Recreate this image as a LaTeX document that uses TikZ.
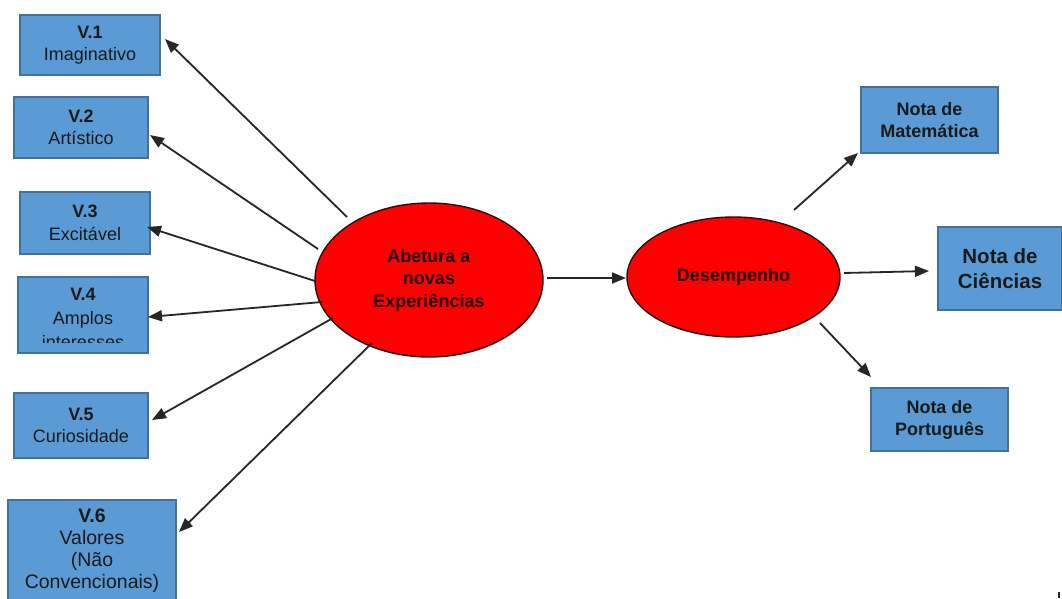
\documentclass[tikz,border=0pt]{standalone}
\usepackage{fontspec}
\setmainfont{Liberation Sans}
\usetikzlibrary{shapes.geometric,arrows.meta}

\definecolor{boxfill}{HTML}{5B9BD5}
\definecolor{boxedge}{HTML}{41719C}
\definecolor{ink}{HTML}{1A1A1A}
\definecolor{ovalfill}{HTML}{FF0000}
\definecolor{ovaledge}{HTML}{2A0A0A}
\definecolor{ovalink}{HTML}{200000}
\definecolor{arrowcol}{HTML}{262626}

\tikzset{
  box/.style={draw=boxedge, fill=boxfill, line width=1.2pt, inner sep=0pt,
    align=center, text=ink, font=\fontsize{18}{22.5}\selectfont},
  boxtext/.style={inner sep=0pt, align=center, text=ink,
    font=\fontsize{18}{22}\selectfont},
  bigbox/.style={box, font=\bfseries\fontsize{20.5}{25}\selectfont},
  oval/.style={ellipse, draw=ovaledge, fill=ovalfill, line width=1.4pt,
    inner sep=0pt, align=center, text=ovalink,
    font=\bfseries\fontsize{18}{22.5}\selectfont},
  arr/.style={draw=arrowcol, line width=1.8pt,
    -{Triangle[length=14pt,width=11pt]}},
}

\begin{document}
\begin{tikzpicture}[x=1pt,y=-1pt]
\useasboundingbox (0,0) rectangle (1062,598);
\clip (0,0) rectangle (1062,598);
\fill[white] (0,0) rectangle (1062,598);

% indicator boxes on the left
\node[box, minimum width=140, minimum height=60] (v1) at (90,45)
  {\textbf{V.1}\\Imaginativo};
\node[box, minimum width=134, minimum height=61] (v2) at (81,127.5)
  {\textbf{V.2}\\Artístico};
\node[box, minimum width=130, minimum height=62] (v3) at (85,223)
  {\textbf{V.3}\\Excitável};
\node[box, minimum width=130, minimum height=76] (v4) at (83,315) {};
\begin{scope}
  \clip (v4.north west) rectangle ([yshift=11pt]v4.south east);
  \node[boxtext, font=\fontsize{18}{24}\selectfont] (v4t) at (83,318.5)
    {\textbf{V.4}\\Amplos\\interesses};
\end{scope}
\node[box, minimum width=134, minimum height=65] (v5) at (81,425.5)
  {\textbf{V.5}\\Curiosidade};
\node[box, minimum width=168, minimum height=110] (v6) at (92,555) {};
\node[boxtext, font=\fontsize{19.5}{21.8}\selectfont] (v6t) at (92,550.5)
  {\textbf{V.6}\\Valores\\(Não\\Convencionais)};

% latent constructs
\node[oval, minimum width=228, minimum height=154] (ab) at (429,280)
  {Abetura a\\novas\\Experiências};
\node[oval, minimum width=213, minimum height=120] (de) at (733.5,277)
  {Desempenho};

% outcome boxes on the right
\node[box, minimum width=137, minimum height=66,
  font=\bfseries\fontsize{18}{22}\selectfont] (mat) at (929.5,120)
  {Nota de\\Matemática};
\node[bigbox, minimum width=124, minimum height=83] (cie) at (1000,268.5)
  {Nota de\\Ciências};
\node[box, minimum width=137, minimum height=63,
  font=\bfseries\fontsize{18}{22}\selectfont] (por) at (939.5,419.5)
  {Nota de\\Português};

% arrow end points
\coordinate (s1) at (347,217);  \coordinate (t1) at (165,39);
\coordinate (s2) at (318,249);  \coordinate (t2) at (150,135);
\coordinate (s3) at (315,281);  \coordinate (t3) at (147,227);
\coordinate (s4) at (322,302);  \coordinate (t4) at (148,317);
\coordinate (s5) at (333,318);  \coordinate (t5) at (152,420);
\coordinate (s6) at (372,343);  \coordinate (t6) at (179,532);
\coordinate (s7) at (547,278);  \coordinate (t7) at (626,278);
\coordinate (s8) at (794,210);  \coordinate (t8) at (858,153);
\coordinate (s9) at (844,273);  \coordinate (t9) at (929,271);
\coordinate (s10) at (820,323); \coordinate (t10) at (871,377);

\draw[arr] (s1) -- (t1);
\draw[arr] (s2) -- (t2);
\draw[arr] (s3) -- (t3);
\draw[arr] (s4) -- (t4);
\draw[arr] (s5) -- (t5);
\draw[arr] (s6) -- (t6);
\draw[arr] (s7) -- (t7);
\draw[arr] (s8) -- (t8);
\draw[arr] (s9) -- (t9);
\draw[arr] (s10) -- (t10);

% small stroke in the lower right corner
\draw[arrowcol, line width=1.5pt] (1059,592) -- (1059,598);
\end{tikzpicture}
\end{document}
